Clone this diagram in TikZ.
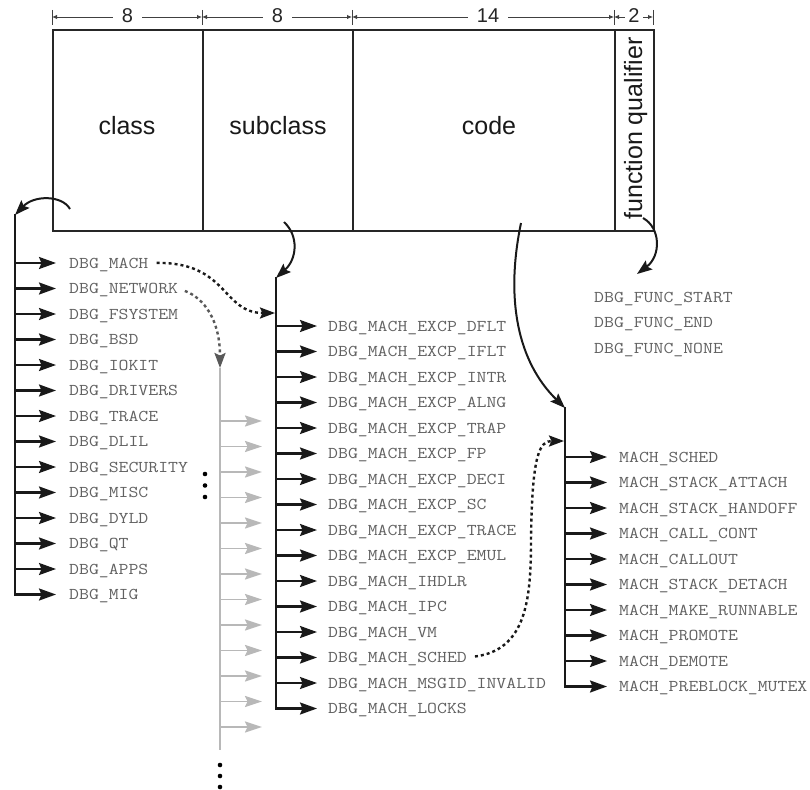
\documentclass[tikz,border=0pt]{standalone}
\usepackage{fontspec}
\setmainfont{Liberation Sans}
\newfontfamily\monof[FakeStretch=1.165]{Latin Modern Mono}
\usetikzlibrary{arrows.meta}
\begin{document}
\begin{tikzpicture}[x=1pt,y=-1pt,
  field/.style={draw=black!85, line width=2.4pt, inner sep=0pt, anchor=north west, minimum height=201pt},
  lab/.style={font=\fontsize{25}{30}\selectfont, text=black!90, anchor=base, inner sep=0pt},
  dimnum/.style={font=\fontsize{20}{24}\selectfont, text=black!85, inner ysep=0pt, inner xsep=9pt, text height=14pt, text depth=0pt},
  dimarr/.style={draw=black!75, line width=0.9pt, -{Latex[length=5pt,width=4.5pt]}},
  tickl/.style={draw=black!75, line width=0.9pt},
  item/.style={font=\monof\fontsize{16.5}{18}\selectfont, text=black!62, anchor=west, inner sep=0pt, text height=10pt, text depth=0pt},
  trunk/.style={draw=black!90, line width=2.2pt, line cap=rect},
  br/.style={draw=black!90, line width=2.2pt, -{Stealth[length=17pt,width=12pt,inset=2.5pt]}},
  gtrunk/.style={draw=black!28, line width=2.4pt},
  gbr/.style={draw=black!28, line width=1.8pt, -{Stealth[length=17pt,width=11pt,inset=2.5pt]}},
  curv/.style={draw=black!90, line width=2pt, -{Stealth[length=15pt,width=11pt,inset=2.5pt]}},
  dotted arr/.style={line width=2.4pt, dash pattern=on 3pt off 3pt, -{Stealth[length=15pt,width=11pt,inset=2.5pt]}},
  bigdot/.style={fill=black, circle, inner sep=0pt, minimum size=4.6pt},
]
\useasboundingbox (0,0) rectangle (810,789);

% ---- fields ----
\node[field, minimum width=150pt] (fclass) at (52,29) {};
\node[field, minimum width=150pt] (fsub) at (202,29) {};
\node[field, minimum width=262pt] (fcode) at (352,29) {};
\node[field, minimum width=39pt] (ffq) at (614,29) {};
\node[lab] (lclass) at (127,134) {class};
\node[lab] (lsub) at (278,134) {subclass};
\node[lab] (lcode) at (489,134) {code};
\node[lab, rotate=90] (lfq) at (642,128.5) {function qualifier};

% ---- dimension line ----
\foreach \x [count=\i from 0] in {52,202,352,614,653} {
  \coordinate (d\i) at (\x,17);
  \draw[tickl] (\x,10) -- (\x,25);
}
\node[dimnum] (n1) at (127.5,16) {8};
\node[dimnum] (n2) at (277.5,16) {8};
\node[dimnum] (n3) at (488,16) {14};
\node[dimnum, inner xsep=3.5pt] (n4) at (634,16) {2};
\draw[dimarr] (n1.west |- d0) -- (d0);
\draw[dimarr] (n1.east |- d1) -- (d1);
\draw[dimarr] (n2.west |- d1) -- (d1);
\draw[dimarr] (n2.east |- d2) -- (d2);
\draw[dimarr] (n3.west |- d2) -- (d2);
\draw[dimarr] (n3.east |- d3) -- (d3);
\draw[dimarr] (n4.west |- d3) -- (d3);
\draw[dimarr] (n4.east |- d4) -- (d4);

% ---- class list ----
\coordinate (cs) at (70,209);
\coordinate (ctop) at (15,215);
\draw[curv] (cs) .. controls (62,195) and (34,195) .. (ctop);
\foreach \t [count=\i from 0] in {MACH,NETWORK,FSYSTEM,BSD,IOKIT,DRIVERS,TRACE,DLIL,SECURITY,MISC,DYLD,QT,APPS,MIG} {
  \pgfmathsetmacro\yy{263+25.5*\i}
  \node[item] (c\i) at (69,\yy) {DBG\_\t};
  \coordinate (ct\i) at (15,\yy);
  \draw[br, shorten >=13pt] (ct\i) -- (c\i.west);
}
\draw[trunk] (ctop) -- (ct13);

% ---- grey list ----
\coordinate (gtop) at (220,368);
\coordinate (gbot) at (220,750);
\draw[gtrunk] (gtop) -- (gbot);
\foreach \i in {0,...,12} {
  \pgfmathsetmacro\yy{421+25.5*\i}
  \coordinate (ga\i) at (220,\yy);
  \coordinate (gb\i) at (262,\yy);
  \draw[gbr] (ga\i) -- (gb\i);
}
\draw[dotted arr, draw=black!65, shorten <=7pt] (c1.east) .. controls (204,298) and (220,320) .. (gtop);
\node[bigdot] (v1) at (205,474) {};
\node[bigdot] (v2) at (205,485.5) {};
\node[bigdot] (v3) at (205,497) {};
\node[bigdot] (w1) at (220,765) {};
\node[bigdot] (w2) at (220,776) {};
\node[bigdot] (w3) at (220,787) {};

% ---- subclass list ----
\coordinate (ss) at (284,222);
\coordinate (stop) at (276,278);
\draw[curv] (ss) .. controls (299,236) and (297,259) .. (stop);
\foreach \t [count=\i from 0] in {EXCP\_DFLT,EXCP\_IFLT,EXCP\_INTR,EXCP\_ALNG,EXCP\_TRAP,EXCP\_FP,EXCP\_DECI,EXCP\_SC,EXCP\_TRACE,EXCP\_EMUL,IHDLR,IPC,VM,SCHED,MSGID\_INVALID,LOCKS} {
  \pgfmathsetmacro\yy{326+25.5*\i}
  \node[item] (s\i) at (328,\yy) {DBG\_MACH\_\t};
  \coordinate (st\i) at (276,\yy);
  \draw[br, shorten >=11pt] (st\i) -- (s\i.west);
}
\draw[trunk] (stop) -- (st15);
\coordinate (sin) at (275,313);
\draw[dotted arr, draw=black!90, shorten <=8pt] (c0.east) .. controls (228,262) and (222,313) .. (sin);

% ---- code list ----
\coordinate (ks) at (521,223);
\coordinate (ktop) at (565,408);
\draw[curv] (ks) .. controls (505,300) and (518,362) .. (ktop);
\foreach \t [count=\i from 0] in {SCHED,STACK\_ATTACH,STACK\_HANDOFF,CALL\_CONT,CALLOUT,STACK\_DETACH,MAKE\_RUNNABLE,PROMOTE,DEMOTE,PREBLOCK\_MUTEX} {
  \pgfmathsetmacro\yy{457+25.5*\i}
  \node[item] (m\i) at (619,\yy) {MACH\_\t};
  \coordinate (mt\i) at (565,\yy);
  \draw[br, shorten >=12pt] (mt\i) -- (m\i.west);
}
\draw[trunk] (ktop) -- (mt9);
\coordinate (kin) at (564,441);
\draw[dotted arr, draw=black!90, shorten <=8pt] (s13.east) .. controls (526,650) and (531,600) .. (531,540) .. controls (532,452) and (540,441) .. (kin);

% ---- function qualifier ----
\coordinate (fs) at (643,218);
\coordinate (fe) at (637,274);
\draw[curv] (fs) .. controls (661,228) and (661,256) .. (fe);
\node[item] (f0) at (594,297) {DBG\_FUNC\_START};
\node[item] (f1) at (594,322.5) {DBG\_FUNC\_END};
\node[item] (f2) at (594,348) {DBG\_FUNC\_NONE};
\end{tikzpicture}
\end{document}
